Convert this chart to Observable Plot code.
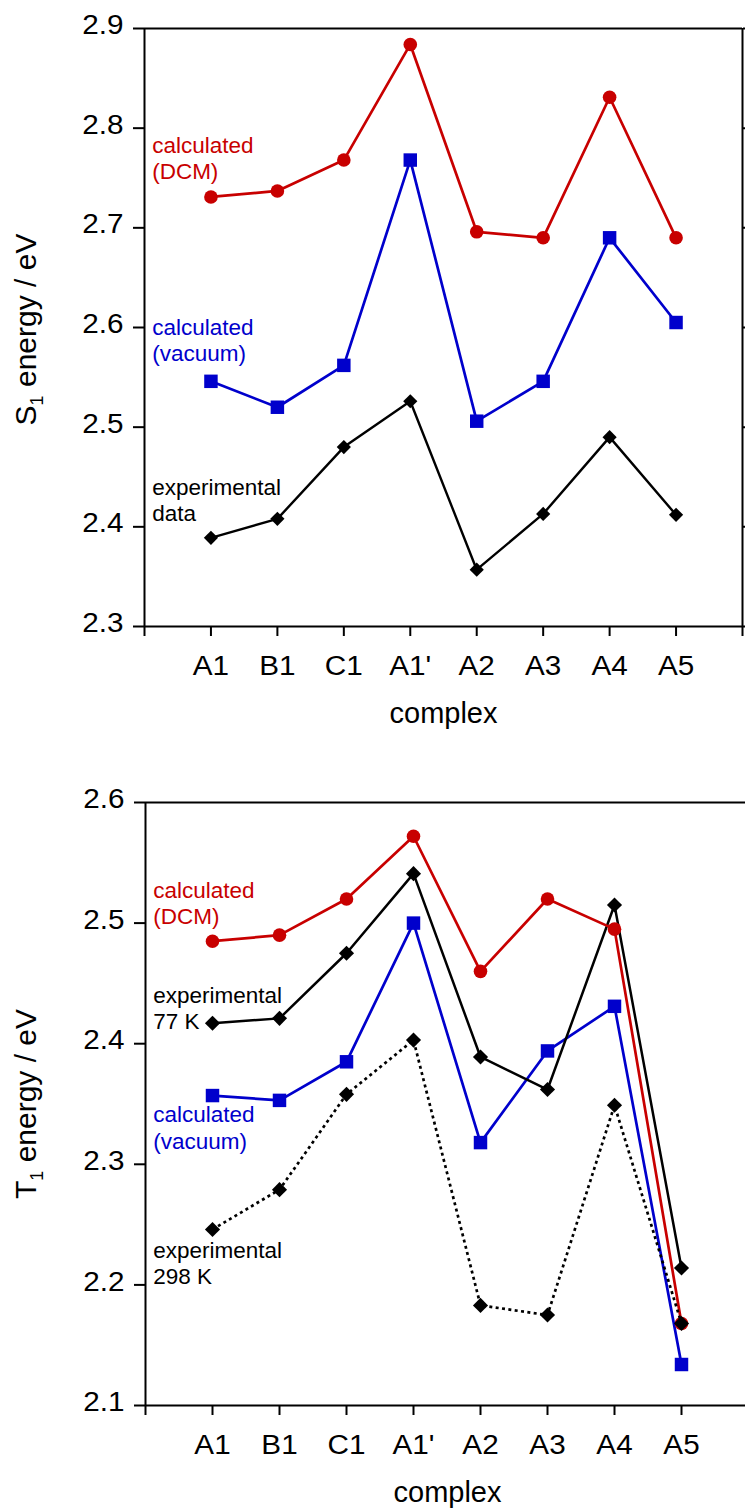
<!DOCTYPE html>
<html>
<head>
<meta charset="utf-8">
<script src="https://cdn.jsdelivr.net/npm/d3@7"></script>
<script src="https://cdn.jsdelivr.net/npm/@observablehq/plot@0.6"></script>
<style>
html, body { margin: 0; padding: 0; background: #fff; overflow: hidden; }
#chart svg { display: block; max-width: none; }
</style>
</head>
<body>
<div id="chart"></div>
<script>
// ---------- data ----------
const categories = ["A1", "B1", "C1", "A1'", "A2", "A3", "A4", "A5"];

// S1 energies (eV)
const s1Dcm    = [2.731, 2.737, 2.768, 2.884, 2.696, 2.690, 2.831, 2.690];
const s1Vacuum = [2.546, 2.520, 2.562, 2.768, 2.506, 2.546, 2.690, 2.605];
const s1Exp    = [2.389, 2.408, 2.480, 2.526, 2.357, 2.413, 2.490, 2.412];

// T1 energies (eV)
const t1Dcm    = [2.485, 2.490, 2.520, 2.572, 2.460, 2.520, 2.495, 2.168];
const t1Exp77  = [2.417, 2.421, 2.475, 2.541, 2.389, 2.362, 2.515, 2.214];
const t1Vacuum = [2.357, 2.353, 2.385, 2.500, 2.318, 2.394, 2.431, 2.134];
const t1Exp298 = [2.246, 2.279, 2.358, 2.403, 2.183, 2.175, 2.349, 2.168];

const s1Ticks = [2.3, 2.4, 2.5, 2.6, 2.7, 2.8, 2.9];
const t1Ticks = [2.1, 2.2, 2.3, 2.4, 2.5, 2.6];
const xTicks  = [0, 1, 2, 3, 4, 5, 6, 7, 8, 9];

const s1LabelTexts = ["calculated\n(DCM)", "calculated\n(vacuum)", "experimental\ndata"];
const t1LabelTexts = ["calculated\n(DCM)", "experimental\n77 K", "calculated\n(vacuum)", "experimental\n298 K"];
const xTitle = "complex";

// ---------- styling / layout ----------
const RED = "#c80000", BLUE = "#0000cc", BLACK = "#000";
const FONT = "'Liberation Sans', Arial, Helvetica, sans-serif";

const rows = (vals) => vals.map((v, i) => ({x: i + 1, y: v}));

function seriesMarks(vals, color, symbol, r, opts = {}) {
  const d = rows(vals);
  return [
    Plot.line(d, {x: "x", y: "y", stroke: color, strokeWidth: opts.sw ?? 2.7, strokeDasharray: opts.dash, strokeLinecap: opts.dash ? "butt" : "round"}),
    Plot.dot(d, {x: "x", y: "y", symbol, r, fill: color, stroke: "none"})
  ];
}

function panel(cfg) {
  const [y0, y1] = cfg.yDomain;
  const marks = [
    Plot.ruleY([y1], {stroke: BLACK, strokeWidth: 2}),
    Plot.ruleY([y0], {stroke: BLACK, strokeWidth: 2}),
    Plot.ruleX([0], {stroke: BLACK, strokeWidth: 2}),
    cfg.rightFrame ? Plot.ruleX([9], {stroke: BLACK, strokeWidth: 2}) : null,
    Plot.axisY({ticks: cfg.ticks, tickSize: 11, fill: "none", stroke: BLACK, strokeWidth: 2, label: null}),
    cfg.rightFrame ? Plot.axisY({anchor: "right", ticks: cfg.ticks, tickSize: 8, fill: "none", stroke: BLACK, strokeWidth: 2, label: null}) : null,
    Plot.axisX({ticks: xTicks, tickSize: 10, fill: "none", stroke: BLACK, strokeWidth: 2, label: null}),
    Plot.text(cfg.ticks, {x: () => 0, y: d => d, text: d => d.toFixed(1), textAnchor: "end", dx: -21, dy: -3, fontSize: 27, fill: BLACK, className: "ticklab"}),
    Plot.text(categories, {x: (d, i) => i + 1, y: () => y0, text: d => d, lineAnchor: "bottom", dy: 48, fontSize: 27, fill: BLACK, className: "ticklab"}),
    Plot.text([xTitle], {frameAnchor: "bottom", text: d => d, lineAnchor: "bottom", dy: 96, dx: cfg.titleDx ?? 0, fontSize: 29, fill: BLACK}),
    Plot.text([cfg.yTitle], {frameAnchor: "left", text: d => d, rotate: -90, lineAnchor: "bottom", textAnchor: "middle", dx: cfg.yTitleDx, dy: cfg.yTitleDy ?? 0, fontSize: 30, fill: BLACK}),
    ...cfg.series.flatMap(s => seriesMarks(s.vals, s.color, s.symbol, s.r, s)),
    ...cfg.labels.map(l => Plot.text([l.text], {x: () => l.x, y: () => l.y, text: d => d, fill: l.color, textAnchor: "start", lineAnchor: "top", lineHeight: 1.173, fontSize: 22.5}))
  ];
  return Plot.plot({
    width: 745,
    height: cfg.height,
    marginTop: cfg.mt, marginBottom: cfg.mb, marginLeft: cfg.ml, marginRight: cfg.mr,
    style: {fontFamily: FONT, background: "white", color: BLACK},
    x: {domain: [0, 9], range: cfg.xRange},
    y: {domain: cfg.yDomain},
    marks
  });
}

const topPlot = panel({
  height: 740, mt: 28, mb: 114, ml: 144, mr: 3,
  xRange: [144, 742],
  yDomain: [2.3, 2.9], ticks: s1Ticks, rightFrame: true,
  yTitle: "S1 energy / eV", yTitleDx: -109, yTitleDy: 2,
  series: [
    {vals: s1Dcm, color: RED, symbol: "circle", r: 6.8},
    {vals: s1Vacuum, color: BLUE, symbol: "square", r: 7.6},
    {vals: s1Exp, color: BLACK, symbol: "diamond2", r: 6.4, sw: 2.4}
  ],
  labels: [
    {text: s1LabelTexts[0], color: RED, x: 0.115, y: 2.794},
    {text: s1LabelTexts[1], color: BLUE, x: 0.115, y: 2.6115},
    {text: s1LabelTexts[2], color: BLACK, x: 0.115, y: 2.451}
  ]
});

const bottomPlot = panel({
  height: 768, mt: 62, mb: 103, ml: 145, mr: 0,
  xRange: [145, 748], titleDx: 2,
  yDomain: [2.1, 2.6], ticks: t1Ticks, rightFrame: false,
  yTitle: "T1 energy / eV", yTitleDx: -110, yTitleDy: 0,
  series: [
    {vals: t1Vacuum, color: BLUE, symbol: "square", r: 7.6},
    {vals: t1Exp77, color: BLACK, symbol: "diamond2", r: 6.8, sw: 2.5},
    {vals: t1Dcm, color: RED, symbol: "circle", r: 6.8},
    {vals: t1Exp298, color: BLACK, symbol: "diamond2", r: 6.8, sw: 2.7, dash: "3,3.4"}
  ],
  labels: [
    {text: t1LabelTexts[0], color: RED, x: 0.115, y: 2.5366},
    {text: t1LabelTexts[1], color: BLACK, x: 0.115, y: 2.4493},
    {text: t1LabelTexts[2], color: BLUE, x: 0.115, y: 2.3505},
    {text: t1LabelTexts[3], color: BLACK, x: 0.115, y: 2.2379}
  ]
});

const chart = document.getElementById("chart");
chart.appendChild(topPlot);
chart.appendChild(bottomPlot);

// subscripts in the y-axis titles (S₁, T₁)
d3.selectAll("#chart text").each(function () {
  const t = this.textContent;
  const m = /^([ST])1( energy \/ eV)$/.exec(t);
  if (!m) return;
  const sel = d3.select(this);
  sel.text(null);
  sel.append("tspan").text(m[1]);
  sel.append("tspan").attr("font-size", "18px").attr("dy", "7px").text("1");
  sel.append("tspan").attr("dy", "-7px").text(m[2]);
});

// the reference's tick labels are set in a slightly wider face: stretch them horizontally
d3.selectAll("#chart .ticklab text").each(function () {
  const len = this.getComputedTextLength();
  if (len > 0) {
    this.setAttribute("textLength", (len * 1.1).toFixed(1));
    this.setAttribute("lengthAdjust", "spacingAndGlyphs");
  }
});
</script>
</body>
</html>
